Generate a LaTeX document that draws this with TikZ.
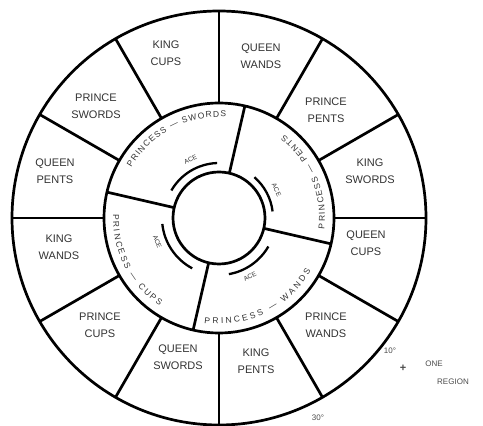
\documentclass[tikz,border=0pt]{standalone}
\usepackage{fontspec}
\setmainfont{Liberation Sans}
\usetikzlibrary{decorations.text,calc}
\begin{document}
\begin{tikzpicture}[x=1pt,y=1pt,
  ring/.style={circle, draw=black, line width=2.7pt, inner sep=0pt, outer sep=0pt},
  spoke/.style={line width=2.7pt, black},
  hubarc/.style={line width=2.3pt, black},
  lbl/.style={font=\fontsize{11}{17}\selectfont, align=center, inner sep=0pt, text=black!80},
  acelbl/.style={font=\fontsize{6.5}{7}\selectfont, inner sep=0pt, text=black!80},
  note/.style={font=\fontsize{8}{9}\selectfont, inner sep=0pt, text=black!70},
  ringtext/.style={decorate, decoration={text along path, text={|\fontsize{8.5}{9}\selectfont\color{black!80}|#1}, text align={fit to path}}}]
\useasboundingbox (0,0) rectangle (483,426);
\fill[white] (0,0) rectangle (483,426);
\coordinate (C) at (219,208);
\node[ring, minimum size=414pt] (outer) at (C) {};
\node[ring, minimum size=230pt] (mid) at (C) {};
\node[ring, minimum size=92pt] (hub) at (C) {};
% outer ring dividers
\foreach \a in {0,30,...,330} \draw[spoke] (mid.\a) -- (outer.\a);
% middle ring dividers
\foreach \a in {77,167,257,347} \draw[spoke] (hub.\a) -- (mid.\a);
% hub arcs
\draw[hubarc] ($(C)+(92:55)$) arc[start angle=92, end angle=150, radius=55];
\draw[hubarc] ($(C)+(7:54)$) arc[start angle=7, end angle=49, radius=54];
\draw[hubarc] ($(C)+(-80:57)$) arc[start angle=-80, end angle=-30, radius=57];
\draw[hubarc] ($(C)+(186:57)$) arc[start angle=186, end angle=242, radius=57];
\node[acelbl, rotate=26] (a1) at ($(C)+(116:65)$) {ACE};
\node[acelbl, rotate=-64] (a2) at ($(C)+(26:64)$) {ACE};
\node[acelbl, rotate=28] (a3) at ($(C)+(-62:66)$) {ACE};
\node[acelbl, rotate=-69] (a4) at ($(C)+(201:66)$) {ACE};
% middle ring texts
\path[ringtext={PRINCESS — SWORDS}]
  ($(C)+(150:101)$) arc[start angle=150, end angle=86, radius=101];
\path[ringtext={PRINCESS — PENTS}]
  ($(C)+(-6:106)$) arc[start angle=-6, end angle=52, radius=106];
\path[ringtext={PRINCESS — WANDS}]
  ($(C)+(-98:106)$) arc[start angle=-98, end angle=-30, radius=106];
\path[ringtext={PRINCESS — CUPS}]
  ($(C)+(178:106)$) arc[start angle=178, end angle=236, radius=106];
% outer ring labels
\node[lbl] (qw) at (261,370) {QUEEN\\WANDS};
\node[lbl] (kc) at (166,373) {KING\\CUPS};
\node[lbl] (ps) at (96,320) {PRINCE\\SWORDS};
\node[lbl] (qp) at (55,255) {QUEEN\\PENTS};
\node[lbl] (kw) at (59,179) {KING\\WANDS};
\node[lbl] (pc) at (100,101) {PRINCE\\CUPS};
\node[lbl] (qs) at (178,69) {QUEEN\\SWORDS};
\node[lbl] (kp) at (256,65) {KING\\PENTS};
\node[lbl] (pw) at (326,101) {PRINCE\\WANDS};
\node[lbl] (qc) at (366,183) {QUEEN\\CUPS};
\node[lbl] (ks) at (370,255) {KING\\SWORDS};
\node[lbl] (pp) at (326,316) {PRINCE\\PENTS};
% notes
\node[note] (n10) at (390,75) {10°};
\node[note, font=\fontsize{11}{12}\selectfont\bfseries] (nplus) at (403,58) {+};
\node[note] (none) at (434,62) {ONE};
\node[note] (nreg) at (453,44) {REGION};
\node[note] (n30) at (318,8) {30°};
\end{tikzpicture}
\end{document}
